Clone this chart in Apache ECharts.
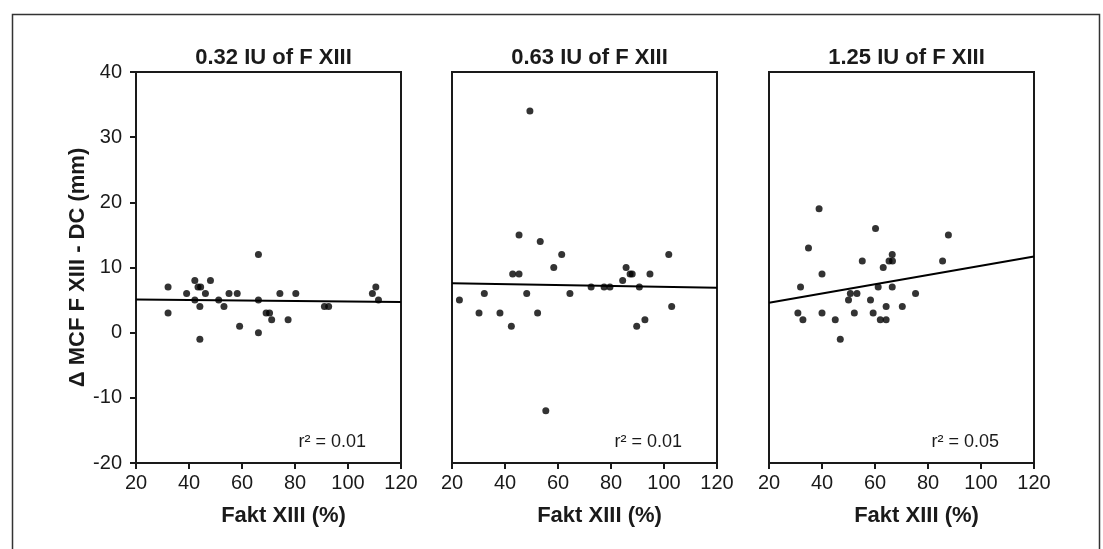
<!DOCTYPE html>
<html>
<head>
<meta charset="utf-8">
<script src="https://cdn.jsdelivr.net/npm/echarts@6/dist/echarts.min.js"></script>
<style>
  html, body { margin: 0; padding: 0; background: #fff; }
  #chart { width: 1103px; height: 549px; }
</style>
</head>
<body>
<div id="chart"></div>
<script>
// panel titles and r² labels
var panelTitles = ["0.32 IU of F XIII", "0.63 IU of F XIII", "1.25 IU of F XIII"];
var r2Labels = ["r\u00b2 = 0.01", "r\u00b2 = 0.01", "r\u00b2 = 0.05"];

// [Fakt XIII (%), delta MCF (mm)]
var dose032 = [[32.1,7],[32.1,3],[42.2,8],[43.4,7],[44.4,7],[39.1,6],[46.2,6],[48.1,8],[42.2,5],[44.1,4],
  [44.1,-1],[51.2,5],[53.2,4],[55.1,6],[58.2,6],[59.1,1],[66.2,12],[66.2,5],[66.2,0],[69.1,3],
  [70.4,3],[71.2,2],[74.3,6],[77.4,2],[80.3,6],[91.1,4],[92.7,4],[110.5,7],[109.2,6],[111.5,5]];
var dose063 = [[49.4,34],[45.3,15],[53.3,14],[61.4,12],[58.4,10],[42.9,9],[45.3,9],[22.8,5],[32.2,6],[30.2,3],
  [38.1,3],[42.4,1],[48.2,6],[52.3,3],[55.4,-12],[64.5,6],[72.5,7],[77.4,7],[79.6,7],[85.7,10],
  [84.4,8],[87.2,9],[88.0,9],[90.7,7],[94.7,9],[89.7,1],[92.8,2],[101.8,12],[102.9,4]];
var dose125 = [[38.9,19],[60.2,16],[87.7,15],[34.9,13],[55.2,11],[66.5,12],[65.3,11],[66.6,11],[63.1,10],[85.5,11],
  [40,9],[31.9,7],[50.7,6],[53.2,6],[50,5],[61.2,7],[66.5,7],[58.3,5],[64.2,4],[70.3,4],
  [75.3,6],[30.9,3],[32.8,2],[40,3],[45,2],[52.2,3],[59.3,3],[62,2],[64.2,2],[46.9,-1]];

// regression lines (ends)
var fit032 = [[20,5.1],[120,4.7]];
var fit063 = [[20,7.6],[120,6.9]];
var fit125 = [[20,4.6],[120,11.7]];

var scatterData = [dose032, dose063, dose125];
var fitData = [fit032, fit063, fit125];

var chart = echarts.init(document.getElementById("chart"));
var lefts = [136, 452, 769];
var gw = 265, gtop = 72, gh = 391;
var ink = "#1a1a1a";
var font = "Liberation Sans, Arial, sans-serif";

var grids = [], xAxes = [], yAxes = [], series = [], titles = [], texts = [];
for (var i = 0; i < 3; i++) {
  grids.push({
    left: lefts[i], top: gtop, width: gw, height: gh,
    show: true, borderColor: ink, borderWidth: 2, backgroundColor: "transparent"
  });
  xAxes.push({
    gridIndex: i, type: "value", min: 20, max: 120, interval: 20,
    name: "Fakt XIII (%)", nameLocation: "middle", nameGap: 42,
    nameTextStyle: { fontFamily: font, fontWeight: "bold", fontSize: 22, color: ink, padding: [0, 0, 0, 30] },
    axisLine: { onZero: false, lineStyle: { color: ink, width: 2 } },
    axisTick: { show: true, length: 6, lineStyle: { color: ink, width: 2 } },
    axisLabel: { fontFamily: font, fontSize: 20, color: ink, margin: 10 },
    splitLine: { show: false }
  });
  yAxes.push({
    gridIndex: i, type: "value", min: -20, max: 40, interval: 10,
    name: i == 0 ? "\u0394 MCF F XIII - DC (mm)" : "",
    nameLocation: "middle", nameGap: 40,
    nameTextStyle: { fontFamily: font, fontWeight: "bold", fontSize: 22, color: ink },
    axisLine: { show: true, onZero: false, lineStyle: { color: ink, width: 2 } },
    axisTick: { show: i == 0, length: 6, lineStyle: { color: ink, width: 2 } },
    axisLabel: { show: i == 0, fontFamily: font, fontSize: 20, color: ink, margin: 14 },
    splitLine: { show: false }
  });
  series.push({
    type: "scatter", xAxisIndex: i, yAxisIndex: i,
    data: scatterData[i], symbolSize: 7,
    itemStyle: { color: "#000" }
  });
  series.push({
    type: "line", xAxisIndex: i, yAxisIndex: i,
    data: fitData[i], symbol: "none",
    lineStyle: { color: "#000", width: 2 }
  });
  titles.push({
    text: panelTitles[i], left: lefts[i] + gw / 2, top: 42, textAlign: "center",
    textStyle: { fontFamily: font, fontWeight: "bold", fontSize: 22, color: ink }
  });
  texts.push({
    type: "text", right: 1103 - (lefts[i] + gw - 35), top: gtop + gh - 30,
    style: { text: r2Labels[i], font: "18px " + font, fill: ink }
  });
}

// outer frame
texts.push({
  type: "rect", left: 10, top: 12,
  shape: { x: 0, y: 0, width: 1087, height: 545 },
  style: { fill: "none", stroke: "#333", lineWidth: 1.5 }
});

var option = {
  animation: false,
  backgroundColor: "#fff",
  title: titles,
  grid: grids,
  xAxis: xAxes,
  yAxis: yAxes,
  series: series,
  graphic: texts
};
chart.setOption(option);
window.addEventListener("resize", function () {
  chart.resize();
});
</script>
</body>
</html>
